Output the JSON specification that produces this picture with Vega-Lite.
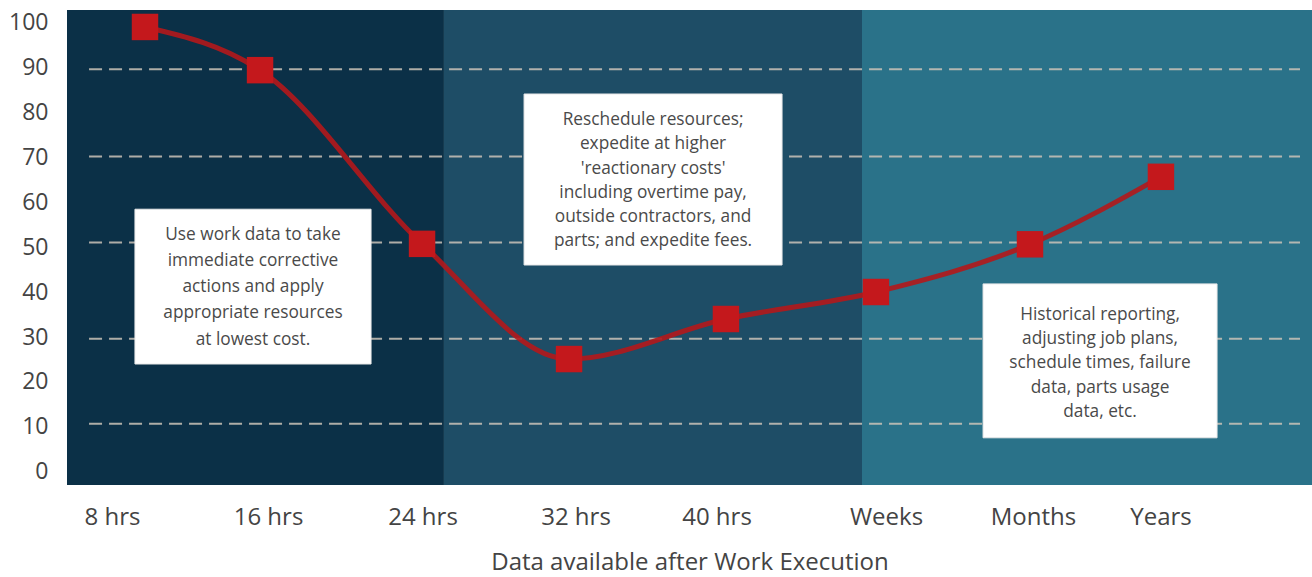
{
  "$schema": "https://vega.github.io/schema/vega-lite/v6.json",
  "width": 1245,
  "height": 475,
  "autosize": {"type": "none"},
  "padding": {"left": 67, "top": 10, "right": 0, "bottom": 92},
  "background": "white",
  "config": {
    "view": {"stroke": null},
    "font": "Open Sans",
    "axisX": {
      "domain": false, "ticks": false, "grid": false,
      "labelFontSize": 24, "labelColor": "#444444", "labelPadding": 20, "labelFont": "Open Sans",
      "titleFontSize": 24, "titleFontWeight": "normal", "titleColor": "#444444", "titlePadding": 21, "titleFont": "Open Sans"
    },
    "axisY": {
      "domain": false, "ticks": false, "grid": false,
      "labelFontSize": 23, "labelColor": "#444444", "labelPadding": 19, "labelFont": "Open Sans"
    }
  },
  "datasets": {
    "bands": [
      {"start": 0.7, "end": 3.213, "zone": "a"},
      {"start": 3.213, "end": 6.0, "zone": "b"},
      {"start": 6.0, "end": 9.0, "zone": "c"}
    ],
    "grid": [
      {"g": 89.5}, {"g": 70.1}, {"g": 51.0}, {"g": 29.6}, {"g": 10.7}
    ],
    "points": [
      {"t": 1.22, "v": 98.9},
      {"t": 1.987, "v": 89.3},
      {"t": 3.067, "v": 50.7},
      {"t": 4.047, "v": 25.1},
      {"t": 5.093, "v": 34.0},
      {"t": 6.093, "v": 40.0},
      {"t": 7.12, "v": 50.6},
      {"t": 7.993, "v": 65.6}
    ],
    "notes": [
      {"id": 1, "x1": 1.153, "x2": 2.727, "y1": 58.4, "y2": 24.0, "cx": 1.94, "cy": 52.7,
       "text": ["Use work data to take", "immediate corrective", "actions and apply", "appropriate resources", "at lowest cost."]},
      {"id": 2, "x1": 3.747, "x2": 5.467, "y1": 84.0, "y2": 46.0, "cx": 4.607, "cy": 78.2,
       "text": ["Reschedule resources;", "expedite at higher", "'reactionary costs'", "including overtime pay,", "outside contractors, and", "parts; and expedite fees."]},
      {"id": 3, "x1": 6.807, "x2": 8.367, "y1": 41.8, "y2": 7.6, "cx": 7.587, "cy": 34.9,
       "text": ["Historical reporting,", "adjusting job plans,", "schedule times, failure", "data, parts usage", "data, etc."]}
    ]
  },
  "layer": [
    {
      "data": {"name": "bands"},
      "mark": {"type": "rect"},
      "encoding": {
        "x": {"field": "start", "type": "quantitative", "scale": {"domain": [0.7, 9.0], "nice": false, "zero": false},
          "axis": {"values": [1, 2.04, 3.07, 4.09, 5.03, 6.16, 7.14, 7.99],
            "labelExpr": "['8 hrs','16 hrs','24 hrs','32 hrs','40 hrs','Weeks','Months','Years'][indexof([1,2.04,3.07,4.09,5.03,6.16,7.14,7.99], datum.value)]",
            "title": "Data available after Work Execution"}},
        "x2": {"field": "end"},
        "color": {"field": "zone", "type": "nominal", "scale": {"domain": ["a", "b", "c"], "range": ["#0b3047", "#1e4d66", "#2a7289"]}, "legend": null}
      }
    },
    {
      "data": {"name": "grid"},
      "mark": {"type": "rule", "stroke": "#cbc3b8", "strokeWidth": 2, "strokeDash": [13, 7], "opacity": 0.85},
      "encoding": {
        "y": {"field": "g", "type": "quantitative", "scale": {"domain": [-2.89, 102.67], "nice": false, "zero": false},
          "axis": {"values": [0, 10, 20, 30, 40, 50, 60, 70, 80, 90, 100], "title": null}},
        "x": {"datum": 0.847, "type": "quantitative",
          "axis": {"values": [1, 2.04, 3.07, 4.09, 5.03, 6.16, 7.14, 7.99],
            "labelExpr": "['8 hrs','16 hrs','24 hrs','32 hrs','40 hrs','Weeks','Months','Years'][indexof([1,2.04,3.07,4.09,5.03,6.16,7.14,7.99], datum.value)]",
            "title": "Data available after Work Execution"}},
        "x2": {"datum": 8.92}
      }
    },
    {
      "data": {"name": "points"},
      "mark": {"type": "line", "stroke": "#b3181b", "strokeWidth": 5, "interpolate": "monotone", "opacity": 0.9},
      "encoding": {
        "x": {"field": "t", "type": "quantitative",
          "axis": {"values": [1, 2.04, 3.07, 4.09, 5.03, 6.16, 7.14, 7.99],
            "labelExpr": "['8 hrs','16 hrs','24 hrs','32 hrs','40 hrs','Weeks','Months','Years'][indexof([1,2.04,3.07,4.09,5.03,6.16,7.14,7.99], datum.value)]",
            "title": "Data available after Work Execution"}},
        "y": {"field": "v", "type": "quantitative",
          "axis": {"values": [0, 10, 20, 30, 40, 50, 60, 70, 80, 90, 100], "title": null}}
      }
    },
    {
      "data": {"name": "points"},
      "mark": {"type": "point", "shape": "square", "filled": true, "size": 700, "color": "#c4181c", "opacity": 1},
      "encoding": {
        "x": {"field": "t", "type": "quantitative",
          "axis": {"values": [1, 2.04, 3.07, 4.09, 5.03, 6.16, 7.14, 7.99],
            "labelExpr": "['8 hrs','16 hrs','24 hrs','32 hrs','40 hrs','Weeks','Months','Years'][indexof([1,2.04,3.07,4.09,5.03,6.16,7.14,7.99], datum.value)]",
            "title": "Data available after Work Execution"}},
        "y": {"field": "v", "type": "quantitative",
          "axis": {"values": [0, 10, 20, 30, 40, 50, 60, 70, 80, 90, 100], "title": null}}
      }
    },
    {
      "data": {"name": "notes"},
      "mark": {"type": "rect", "fill": "white", "stroke": "#e8e8e8", "strokeWidth": 1},
      "encoding": {
        "x": {"field": "x1", "type": "quantitative",
          "axis": {"values": [1, 2.04, 3.07, 4.09, 5.03, 6.16, 7.14, 7.99],
            "labelExpr": "['8 hrs','16 hrs','24 hrs','32 hrs','40 hrs','Weeks','Months','Years'][indexof([1,2.04,3.07,4.09,5.03,6.16,7.14,7.99], datum.value)]",
            "title": "Data available after Work Execution"}},
        "x2": {"field": "x2"},
        "y": {"field": "y1", "type": "quantitative",
          "axis": {"values": [0, 10, 20, 30, 40, 50, 60, 70, 80, 90, 100], "title": null}},
        "y2": {"field": "y2"}
      }
    },
    {
      "data": {"name": "notes"},
      "transform": [{"filter": "datum.id == 1"}],
      "mark": {"type": "text", "align": "center", "baseline": "middle", "fontSize": 17.3, "lineHeight": 26.2, "color": "#4a4a4a", "font": "Open Sans"},
      "encoding": {
        "x": {"field": "cx", "type": "quantitative",
          "axis": {"values": [1, 2.04, 3.07, 4.09, 5.03, 6.16, 7.14, 7.99],
            "labelExpr": "['8 hrs','16 hrs','24 hrs','32 hrs','40 hrs','Weeks','Months','Years'][indexof([1,2.04,3.07,4.09,5.03,6.16,7.14,7.99], datum.value)]",
            "title": "Data available after Work Execution"}},
        "y": {"field": "cy", "type": "quantitative",
          "axis": {"values": [0, 10, 20, 30, 40, 50, 60, 70, 80, 90, 100], "title": null}},
        "text": {"field": "text"}
      }
    },
    {
      "data": {"name": "notes"},
      "transform": [{"filter": "datum.id != 1"}],
      "mark": {"type": "text", "align": "center", "baseline": "middle", "fontSize": 17.3, "lineHeight": 24.2, "color": "#4a4a4a", "font": "Open Sans"},
      "encoding": {
        "x": {"field": "cx", "type": "quantitative",
          "axis": {"values": [1, 2.04, 3.07, 4.09, 5.03, 6.16, 7.14, 7.99],
            "labelExpr": "['8 hrs','16 hrs','24 hrs','32 hrs','40 hrs','Weeks','Months','Years'][indexof([1,2.04,3.07,4.09,5.03,6.16,7.14,7.99], datum.value)]",
            "title": "Data available after Work Execution"}},
        "y": {"field": "cy", "type": "quantitative",
          "axis": {"values": [0, 10, 20, 30, 40, 50, 60, 70, 80, 90, 100], "title": null}},
        "text": {"field": "text"}
      }
    }
  ]
}
